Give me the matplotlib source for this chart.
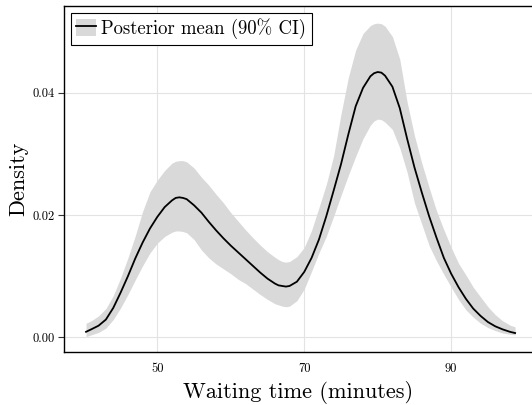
import matplotlib
matplotlib.use("Agg")
import matplotlib.pyplot as plt
from matplotlib.patches import Patch
from matplotlib.lines import Line2D

# ------ style ------
plt.rcParams["font.family"] = "serif"
plt.rcParams["font.serif"] = ["cmr10"]
plt.rcParams["mathtext.fontset"] = "cm"
plt.rcParams["axes.formatter.use_mathtext"] = True

# ------ data ------
waiting = [40.3, 41, 42, 43, 44, 45, 46, 47, 48, 49,
           50, 51, 52, 52.5, 53, 53.5, 54, 55, 56, 57, 58, 59,
           60, 61, 62, 63, 64, 65, 66, 66.5, 67, 67.5, 68, 69,
           70, 71, 72, 73, 74, 75, 76, 77, 78, 79, 79.5,
           80, 80.5, 81, 82, 83, 84, 85, 86, 87, 88, 89,
           90, 91, 92, 93, 94, 95, 96, 97, 98, 98.7]

density_mean = [0.0009, 0.0013, 0.0019, 0.0029, 0.0048, 0.0073, 0.0100, 0.0129, 0.0155, 0.0178,
                0.0197, 0.0213, 0.0224, 0.0228, 0.0229, 0.0228, 0.0226, 0.0216, 0.0204, 0.0189, 0.0175, 0.0162,
                0.0150, 0.0139, 0.0128, 0.0117, 0.0106, 0.0096, 0.0088, 0.0085, 0.0084, 0.0083, 0.0084, 0.0091,
                0.0107, 0.0130, 0.0160, 0.0198, 0.0240, 0.0283, 0.0332, 0.0378, 0.0408, 0.0427, 0.0432,
                0.0434, 0.0433, 0.0428, 0.0410, 0.0375, 0.0325, 0.0278, 0.0237, 0.0198, 0.0163, 0.0130,
                0.0104, 0.0082, 0.0063, 0.0047, 0.0035, 0.0025, 0.0018, 0.0013, 0.0009, 0.0007]

density_lo = [0.0001, 0.0004, 0.0008, 0.0015, 0.0029, 0.0048, 0.0070, 0.0094, 0.0117, 0.0138,
              0.0154, 0.0165, 0.0172, 0.0174, 0.0174, 0.0173, 0.0171, 0.0160, 0.0143, 0.0130, 0.0120, 0.0112,
              0.0104, 0.0095, 0.0088, 0.0079, 0.0070, 0.0062, 0.0055, 0.0053, 0.0051, 0.0050, 0.0051, 0.0060,
              0.0079, 0.0108, 0.0138, 0.0165, 0.0198, 0.0232, 0.0265, 0.0296, 0.0325, 0.0347, 0.0354,
              0.0357, 0.0356, 0.0352, 0.0340, 0.0310, 0.0270, 0.0220, 0.0185, 0.0150, 0.0125, 0.0103,
              0.0082, 0.0062, 0.0045, 0.0033, 0.0023, 0.0016, 0.0011, 0.0007, 0.0005, 0.0004]

density_hi = [0.0023, 0.0027, 0.0035, 0.0047, 0.0068, 0.0097, 0.0130, 0.0166, 0.0206, 0.0238,
              0.0257, 0.0273, 0.0285, 0.0288, 0.0289, 0.0289, 0.0287, 0.0277, 0.0262, 0.0249, 0.0234, 0.0220,
              0.0204, 0.0190, 0.0176, 0.0163, 0.0151, 0.0140, 0.0131, 0.0127, 0.0124, 0.0123, 0.0124, 0.0132,
              0.0147, 0.0175, 0.0212, 0.0250, 0.0297, 0.0365, 0.0425, 0.0470, 0.0497, 0.0510, 0.0513,
              0.0514, 0.0513, 0.0509, 0.0492, 0.0455, 0.0385, 0.0330, 0.0285, 0.0245, 0.0207, 0.0176,
              0.0147, 0.0121, 0.0102, 0.0082, 0.0066, 0.0050, 0.0037, 0.0027, 0.0020, 0.0017]

x_ticks = [50, 70, 90]
y_ticks = [0.00, 0.02, 0.04]

band_color = "#d9d9d9"

# ------ plot ------
fig = plt.figure(figsize=(5.32, 4.05), dpi=100)
ax = fig.add_axes([0.1203, 0.1309, 0.8797, 0.8543])

ax.fill_between(waiting, density_lo, density_hi, color=band_color, lw=0, zorder=2)
ax.plot(waiting, density_mean, color="black", lw=1.3, zorder=3)

ax.set_xlim(37.3, 101.0)
ax.set_ylim(-0.0024, 0.0542)
ax.set_xticks(x_ticks)
ax.set_yticks(y_ticks)
ax.set_xticklabels([str(t) for t in x_ticks])
ax.set_yticklabels(["%.2f" % t for t in y_ticks])
ax.grid(True, color="#e3e3e3", lw=0.8, zorder=0)
ax.set_axisbelow(True)

ax.tick_params(axis="x", length=0, pad=8, labelsize=9)
ax.tick_params(axis="y", length=4, width=0.8, color="#333333", pad=3, labelsize=9)
ax.spines["right"].set_visible(False)
for s in ["left", "bottom", "top"]:
    ax.spines[s].set_linewidth(1.0)

ax.set_xlabel("Waiting time (minutes)", fontsize=16, labelpad=4)
ax.set_ylabel("Density", fontsize=16, labelpad=3)

# legend: grey patch with the mean line on top
handle = (Patch(facecolor=band_color, edgecolor="none"), Line2D([], [], color="black", lw=1.3))
leg = ax.legend([handle], ["Posterior mean (90% CI)"], loc="upper left", fontsize=13.5,
                fancybox=False, edgecolor="black", framealpha=1, borderpad=0.3,
                handlelength=1.05, handleheight=1.05, handletextpad=0.3, borderaxespad=0.35)
leg.get_frame().set_linewidth(0.8)

fig.savefig("out.png", dpi=100)
